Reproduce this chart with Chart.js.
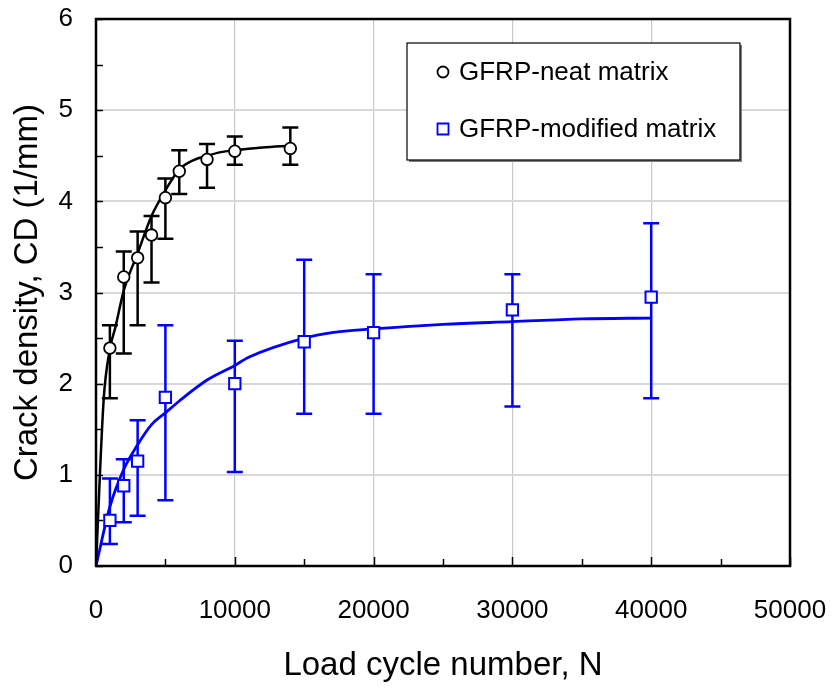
<!DOCTYPE html>
<html>
<head>
<meta charset="utf-8">
<script src="https://cdn.jsdelivr.net/npm/chart.js@4.4.1/dist/chart.umd.min.js"></script>
<style>
  html, body { margin: 0; padding: 0; background: #fff; }
  #wrap { width: 834px; height: 697px; }
</style>
</head>
<body>
<div id="wrap"><canvas id="c" width="834" height="697"></canvas></div>
<script>
// ---- data ----
const xTicks = [0, 10000, 20000, 30000, 40000, 50000];
const yTicks = [0, 1, 2, 3, 4, 5, 6];

const neatLabel = 'GFRP-neat matrix';
const neatN     = [1000, 2000, 3000, 4000, 5000, 6000, 8000, 10000, 14000];
const neatCD    = [2.39, 3.17, 3.38, 3.63, 4.04, 4.33, 4.46, 4.55, 4.58];
const neatUpper = [2.64, 3.45, 3.67, 3.84, 4.25, 4.56, 4.63, 4.71, 4.81];
const neatLower = [1.84, 2.33, 2.64, 3.11, 3.59, 4.08, 4.15, 4.40, 4.40];

const modLabel = 'GFRP-modified matrix';
const modN     = [1000, 2000, 3000, 5000, 10000, 15000, 20000, 30000, 40000];
const modCD    = [0.50, 0.88, 1.15, 1.85, 2.00, 2.46, 2.56, 2.81, 2.95];
const modUpper = [0.96, 1.17, 1.60, 2.64, 2.47, 3.36, 3.20, 3.20, 3.76];
const modLower = [0.24, 0.48, 0.55, 0.72, 1.03, 1.67, 1.67, 1.75, 1.84];

// fitted curves
const neatFitN  = [0, 550, 1000, 1400, 2000, 3000, 4000, 5000, 6000, 7000, 8000, 9000, 10000, 12000, 14000];
const neatFitCD = [0, 1.82, 2.38, 2.62, 3.02, 3.43, 3.84, 4.12, 4.35, 4.45, 4.50, 4.54, 4.56, 4.59, 4.61];
const modFitN   = [0, 1000, 2000, 3000, 4000, 5000, 6000, 8000, 10000, 11000, 15000, 17000, 20000, 25000, 30000, 35000, 40000];
const modFitCD  = [0, 0.65, 1.06, 1.33, 1.55, 1.68, 1.81, 2.04, 2.20, 2.29, 2.50, 2.56, 2.60, 2.65, 2.68, 2.71, 2.72];

const FONT = '"Liberation Sans", Arial, sans-serif';
const BLUE = '#0000ff';
const TARGET = { left: 96, top: 19, right: 790, bottom: 566 };

const pts = (xs, ys) => xs.map((x, i) => ({ x: x, y: ys[i] }));

// error bars drawn just before each marker dataset
const errorBars = {
  id: 'errorBars',
  beforeDatasetDraw(chart, args) {
    const ds = chart.data.datasets[args.index];
    if (!ds.errUpper) return;
    const { ctx, scales: { x, y } } = chart;
    ctx.save();
    ctx.strokeStyle = ds.borderColor;
    ctx.lineWidth = 2.5;
    ctx.lineCap = 'butt';
    ds.data.forEach((p, i) => {
      const px = x.getPixelForValue(p.x);
      const yt = y.getPixelForValue(ds.errUpper[i]);
      const yb = y.getPixelForValue(ds.errLower[i]);
      ctx.beginPath();
      ctx.moveTo(px, yt); ctx.lineTo(px, yb);
      ctx.moveTo(px - 8, yt); ctx.lineTo(px + 8, yt);
      ctx.moveTo(px - 8, yb); ctx.lineTo(px + 8, yb);
      ctx.stroke();
    });
    ctx.restore();
  }
};

// frame + inward tick marks
const frame = {
  id: 'frame',
  beforeDatasetsDraw(chart) {
    const { ctx, chartArea: a, scales: { x, y } } = chart;
    ctx.save();
    ctx.strokeStyle = '#000';
    ctx.lineWidth = 1.5;
    for (let v = 0; v <= 6.0001; v += 0.5) {
      const py = Math.round(y.getPixelForValue(v)) + 0.5;
      ctx.beginPath(); ctx.moveTo(a.left, py); ctx.lineTo(a.left + 7, py); ctx.stroke();
    }
    for (let v = 0; v <= 50000; v += 5000) {
      const px = Math.round(x.getPixelForValue(v)) + 0.5;
      const len = (v % 10000 === 0) ? 9 : 7;
      ctx.beginPath(); ctx.moveTo(px, a.bottom); ctx.lineTo(px, a.bottom - len); ctx.stroke();
    }
    ctx.lineWidth = 2.5;
    ctx.strokeRect(a.left, a.top, a.right - a.left, a.bottom - a.top);
    ctx.restore();
  }
};

// legend box inside plot
const legendBox = {
  id: 'legendBox',
  afterDraw(chart) {
    const { ctx } = chart;
    const bx = 407, by = 43, bw = 333, bh = 117;
    ctx.save();
    ctx.fillStyle = '#808080';
    ctx.fillRect(bx + 2, by + 2, bw, bh);
    ctx.fillStyle = '#fff';
    ctx.fillRect(bx, by, bw, bh);
    ctx.strokeStyle = '#000';
    ctx.lineWidth = 1.2;
    ctx.strokeRect(bx, by, bw, bh);
    const items = [
      { ds: chart.data.datasets[0], y: 72 },
      { ds: chart.data.datasets[1], y: 129 }
    ];
    items.forEach(it => {
      ctx.strokeStyle = it.ds.borderColor;
      ctx.fillStyle = '#fff';
      ctx.lineWidth = 1.8;
      ctx.beginPath();
      if (it.ds.pointStyle === 'rect') {
        ctx.rect(437.5, it.y - 5.5, 11, 11);
      } else {
        ctx.arc(443, it.y, 5.5, 0, Math.PI * 2);
      }
      ctx.fill(); ctx.stroke();
      ctx.fillStyle = '#000';
      ctx.font = '26px ' + FONT;
      ctx.textBaseline = 'middle';
      ctx.textAlign = 'left';
      ctx.fillText(it.ds.label, 459, it.y + 1);
    });
    ctx.restore();
  }
};

const chart = new Chart(document.getElementById('c'), {
  type: 'scatter',
  data: {
    datasets: [
      {
        label: neatLabel,
        data: pts(neatN, neatCD),
        errUpper: neatUpper, errLower: neatLower,
        showLine: false,
        pointStyle: 'circle', pointRadius: 5.8, pointBorderWidth: 1.8,
        borderColor: '#000', backgroundColor: '#fff',
        pointBackgroundColor: '#fff', pointBorderColor: '#000'
      },
      {
        label: modLabel,
        data: pts(modN, modCD),
        errUpper: modUpper, errLower: modLower,
        showLine: false,
        pointStyle: 'rect', pointRadius: 8, pointBorderWidth: 2,
        borderColor: BLUE, backgroundColor: '#fff',
        pointBackgroundColor: '#fff', pointBorderColor: BLUE
      },
      {
        label: 'neat fit',
        type: 'line',
        data: pts(neatFitN, neatFitCD),
        borderColor: '#000', borderWidth: 2.5,
        pointRadius: 0, fill: false,
        cubicInterpolationMode: 'monotone'
      },
      {
        label: 'modified fit',
        type: 'line',
        data: pts(modFitN, modFitCD),
        borderColor: BLUE, borderWidth: 2.8,
        pointRadius: 0, fill: false,
        cubicInterpolationMode: 'monotone'
      }
    ]
  },
  options: {
    responsive: false,
    animation: false,
    devicePixelRatio: 1,
    layout: { autoPadding: false, padding: { left: 0, top: 19, right: 44, bottom: 0 } },
    plugins: {
      legend: { display: false },
      tooltip: { enabled: false }
    },
    scales: {
      x: {
        type: 'linear',
        min: 0, max: 50000,
        afterBuildTicks: s => { s.ticks = xTicks.map(v => ({ value: v })); },
        afterFit: s => { s.height = 131; s.paddingLeft = 0; s.paddingRight = 0; },
        ticks: {
          autoSkip: false, maxRotation: 0,
          color: '#000', padding: 29,
          font: { family: FONT, size: 26 },
          callback: v => String(v)
        },
        grid: { color: '#c8c8c8', lineWidth: 1.2, drawTicks: false },
        border: { display: false },
        title: {
          display: true, text: 'Load cycle number, N', color: '#000',
          font: { family: FONT, size: 33 },
          padding: { top: 0, bottom: 11 }
        }
      },
      y: {
        type: 'linear',
        min: 0, max: 6,
        afterBuildTicks: s => { s.ticks = yTicks.map(v => ({ value: v })); },
        afterFit: s => { s.width = 96; s.paddingTop = 0; s.paddingBottom = 0; },
        ticks: {
          autoSkip: false,
          color: '#000', padding: 23,
          font: { family: FONT, size: 26 },
          callback: v => String(v)
        },
        grid: { color: '#d8d8d8', lineWidth: 2, drawTicks: false },
        border: { display: false },
        title: {
          display: true, text: 'Crack density, CD (1/mm)', color: '#000',
          font: { family: FONT, size: 33 },
          padding: { top: 8, bottom: 0 }
        }
      }
    }
  },
  plugins: [frame, errorBars, legendBox]
});

// nudge layout padding so the plot area lands where the reference has it
for (let k = 0; k < 3; k++) {
  const a = chart.chartArea;
  const p = chart.options.layout.padding;
  const dTop = TARGET.top - a.top;
  const dRight = a.right - TARGET.right;
  if (Math.abs(dTop) < 0.5 && Math.abs(dRight) < 0.5) break;
  p.top = Math.max(0, p.top + dTop);
  p.right = Math.max(0, p.right + dRight);
  chart.update();
}
</script>
</body>
</html>
